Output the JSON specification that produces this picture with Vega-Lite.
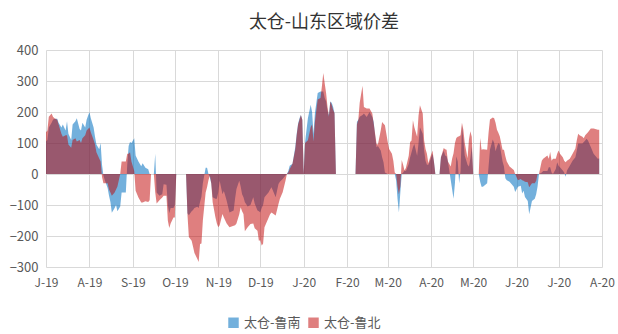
{
  "$schema": "https://vega.github.io/schema/vega-lite/v6.json",
  "width": 556,
  "height": 217,
  "autosize": {"type": "none"},
  "padding": {"left": 46, "top": 50, "right": 16, "bottom": 67},
  "background": "white",
  "title": {
    "text": "太仓-山东区域价差",
    "font": "Noto Sans CJK SC",
    "fontSize": 18,
    "fontWeight": "normal",
    "color": "#333333",
    "anchor": "middle",
    "offset": 12
  },
  "config": {
    "view": {"stroke": null},
    "axis": {
      "labelFont": "Noto Sans CJK SC",
      "labelFontSize": 12,
      "labelColor": "#595959",
      "gridColor": "#D9D9D9",
      "gridWidth": 1,
      "domain": false,
      "ticks": false,
      "title": null
    },
    "legend": {
      "labelFont": "Noto Sans CJK SC",
      "labelFontSize": 13,
      "labelColor": "#595959"
    }
  },
  "data": {
    "values": [
      {"d":"2019-07-01","s":105,"n":135},{"d":"2019-07-02","s":110,"n":140},{"d":"2019-07-03","s":150,"n":185},{"d":"2019-07-05","s":165,"n":195},{"d":"2019-07-06","s":175,"n":185},{"d":"2019-07-07","s":178,"n":180},{"d":"2019-07-09","s":178,"n":175},{"d":"2019-07-10","s":165,"n":160},{"d":"2019-07-12","s":150,"n":130},{"d":"2019-07-13","s":160,"n":120},{"d":"2019-07-15","s":140,"n":125},{"d":"2019-07-16","s":170,"n":125},{"d":"2019-07-17","s":130,"n":95},{"d":"2019-07-19","s":110,"n":85},{"d":"2019-07-20","s":160,"n":110},{"d":"2019-07-22","s":170,"n":115},{"d":"2019-07-23","s":180,"n":105},{"d":"2019-07-25","s":145,"n":110},{"d":"2019-07-26","s":140,"n":100},{"d":"2019-07-27","s":165,"n":115},{"d":"2019-07-29","s":150,"n":125},{"d":"2019-07-30","s":175,"n":140},
      {"d":"2019-08-01","s":200,"n":150},{"d":"2019-08-02","s":180,"n":135},{"d":"2019-08-04","s":150,"n":110},{"d":"2019-08-05","s":120,"n":95},{"d":"2019-08-06","s":95,"n":70},{"d":"2019-08-08","s":80,"n":50},{"d":"2019-08-09","s":100,"n":40},{"d":"2019-08-10","s":30,"n":-10},{"d":"2019-08-11","s":-5,"n":-30},{"d":"2019-08-12","s":-20,"n":-30},{"d":"2019-08-14","s":-45,"n":-30},{"d":"2019-08-15","s":-70,"n":-50},{"d":"2019-08-16","s":-90,"n":-60},{"d":"2019-08-17","s":-125,"n":-70},{"d":"2019-08-19","s":-110,"n":-60},{"d":"2019-08-20","s":-100,"n":-50},{"d":"2019-08-21","s":-120,"n":-40},{"d":"2019-08-23","s":-105,"n":0},{"d":"2019-08-24","s":-60,"n":40},{"d":"2019-08-26","s":-60,"n":40},{"d":"2019-08-27","s":-60,"n":40},{"d":"2019-08-28","s":30,"n":65},{"d":"2019-08-29","s":90,"n":65},{"d":"2019-08-30","s":103,"n":70},{"d":"2019-08-31","s":100,"n":40},
      {"d":"2019-09-02","s":115,"n":10},{"d":"2019-09-03","s":60,"n":-54},{"d":"2019-09-05","s":40,"n":-76},{"d":"2019-09-07","s":25,"n":-92},{"d":"2019-09-08","s":35,"n":-92},{"d":"2019-09-10","s":20,"n":-88},{"d":"2019-09-12","s":15,"n":-90},{"d":"2019-09-13","s":0,"n":-85},{"d":"2019-09-14","s":0,"n":0},{"d":"2019-09-16","s":0,"n":0},{"d":"2019-09-17","s":65,"n":-60},{"d":"2019-09-18","s":-60,"n":-95},{"d":"2019-09-20","s":-70,"n":-85},{"d":"2019-09-22","s":-65,"n":-76},{"d":"2019-09-23","s":-33,"n":-70},{"d":"2019-09-25","s":-35,"n":-70},{"d":"2019-09-26","s":-100,"n":-150},{"d":"2019-09-27","s":-127,"n":-174},{"d":"2019-09-28","s":-110,"n":-160},{"d":"2019-09-30","s":-110,"n":-140},
      {"d":"2019-10-01","s":-100,"n":-140},{"d":"2019-10-02","s":0,"n":0},{"d":"2019-10-09","s":0,"n":0},{"d":"2019-10-10","s":-127,"n":-130},{"d":"2019-10-11","s":-133,"n":-203},{"d":"2019-10-13","s":-120,"n":-215},{"d":"2019-10-14","s":-116,"n":-235},{"d":"2019-10-15","s":-110,"n":-255},{"d":"2019-10-17","s":-106,"n":-273},{"d":"2019-10-18","s":-110,"n":-284},{"d":"2019-10-19","s":-90,"n":-226},{"d":"2019-10-20","s":-73,"n":-224},{"d":"2019-10-21","s":-30,"n":-150},{"d":"2019-10-23","s":20,"n":-60},{"d":"2019-10-24","s":20,"n":-43},{"d":"2019-10-25","s":0,"n":-20},{"d":"2019-10-26","s":-11,"n":-5},{"d":"2019-10-27","s":-30,"n":-30},{"d":"2019-10-28","s":-75,"n":-91},{"d":"2019-10-30","s":-80,"n":-140},{"d":"2019-10-31","s":-80,"n":-160},
      {"d":"2019-11-01","s":-60,"n":-172},{"d":"2019-11-02","s":-22,"n":-165},{"d":"2019-11-04","s":-65,"n":-129},{"d":"2019-11-05","s":-55,"n":-140},{"d":"2019-11-06","s":-70,"n":-150},{"d":"2019-11-07","s":-86,"n":-160},{"d":"2019-11-09","s":-124,"n":-172},{"d":"2019-11-12","s":-118,"n":-167},{"d":"2019-11-13","s":-80,"n":-165},{"d":"2019-11-14","s":-48,"n":-160},{"d":"2019-11-16","s":-22,"n":-130},{"d":"2019-11-17","s":-40,"n":-107},{"d":"2019-11-18","s":-65,"n":-120},{"d":"2019-11-19","s":-75,"n":-129},{"d":"2019-11-20","s":-91,"n":-185},{"d":"2019-11-22","s":-105,"n":-172},{"d":"2019-11-24","s":-100,"n":-161},{"d":"2019-11-26","s":-75,"n":-160},{"d":"2019-11-27","s":-95,"n":-175},{"d":"2019-11-29","s":-118,"n":-183},{"d":"2019-11-30","s":-120,"n":-215},
      {"d":"2019-12-01","s":-124,"n":-214},{"d":"2019-12-02","s":-110,"n":-231},{"d":"2019-12-03","s":-100,"n":-225},{"d":"2019-12-04","s":-75,"n":-172},{"d":"2019-12-07","s":-59,"n":-140},{"d":"2019-12-08","s":-50,"n":-130},{"d":"2019-12-09","s":-43,"n":-124},{"d":"2019-12-12","s":-75,"n":-134},{"d":"2019-12-14","s":-32,"n":-97},{"d":"2019-12-15","s":-25,"n":-80},{"d":"2019-12-17","s":-16,"n":-59},{"d":"2019-12-19","s":-5,"n":-22},{"d":"2019-12-20","s":0,"n":0},{"d":"2019-12-21","s":10,"n":5},{"d":"2019-12-22","s":27,"n":16},{"d":"2019-12-24","s":33,"n":33},{"d":"2019-12-26","s":87,"n":80},{"d":"2019-12-27","s":130,"n":125},{"d":"2019-12-28","s":163,"n":160},{"d":"2019-12-29","s":180,"n":175},{"d":"2019-12-30","s":190,"n":190},{"d":"2019-12-31","s":175,"n":175},
      {"d":"2020-01-01","s":0,"n":0},{"d":"2020-01-02","s":103,"n":100},{"d":"2020-01-04","s":180,"n":109},{"d":"2020-01-06","s":223,"n":152},{"d":"2020-01-07","s":200,"n":160},{"d":"2020-01-08","s":130,"n":105},{"d":"2020-01-09","s":196,"n":168},{"d":"2020-01-11","s":261,"n":240},{"d":"2020-01-13","s":266,"n":245},{"d":"2020-01-14","s":266,"n":283},{"d":"2020-01-15","s":266,"n":326},{"d":"2020-01-16","s":245,"n":293},{"d":"2020-01-17","s":235,"n":261},{"d":"2020-01-18","s":205,"n":217},{"d":"2020-01-19","s":190,"n":185},{"d":"2020-01-20","s":234,"n":234},{"d":"2020-01-21","s":230,"n":223},{"d":"2020-01-22","s":217,"n":207},{"d":"2020-01-23","s":196,"n":196},{"d":"2020-01-24","s":0,"n":0},
      {"d":"2020-02-07","s":0,"n":0},{"d":"2020-02-08","s":168,"n":160},{"d":"2020-02-09","s":175,"n":175},{"d":"2020-02-10","s":185,"n":230},{"d":"2020-02-12","s":190,"n":285},{"d":"2020-02-13","s":195,"n":216},{"d":"2020-02-15","s":184,"n":211},{"d":"2020-02-17","s":200,"n":211},{"d":"2020-02-19","s":184,"n":195},{"d":"2020-02-20","s":168,"n":162},{"d":"2020-02-21","s":124,"n":130},{"d":"2020-02-22","s":86,"n":97},{"d":"2020-02-23","s":90,"n":95},{"d":"2020-02-25","s":76,"n":140},{"d":"2020-02-26","s":54,"n":168},{"d":"2020-02-27","s":38,"n":162},{"d":"2020-02-28","s":5,"n":157},
      {"d":"2020-03-01","s":0,"n":103},{"d":"2020-03-02","s":0,"n":81},{"d":"2020-03-04","s":0,"n":65},{"d":"2020-03-05","s":0,"n":43},{"d":"2020-03-06","s":0,"n":5},{"d":"2020-03-07","s":-20,"n":0},{"d":"2020-03-08","s":-80,"n":-40},{"d":"2020-03-09","s":-124,"n":-65},{"d":"2020-03-10","s":-60,"n":-40},{"d":"2020-03-11","s":0,"n":45},{"d":"2020-03-12","s":5,"n":30},{"d":"2020-03-13","s":11,"n":11},{"d":"2020-03-14","s":10,"n":20},{"d":"2020-03-16","s":32,"n":59},{"d":"2020-03-17","s":54,"n":103},{"d":"2020-03-18","s":70,"n":108},{"d":"2020-03-19","s":86,"n":173},{"d":"2020-03-20","s":97,"n":151},{"d":"2020-03-22","s":59,"n":120},{"d":"2020-03-23","s":100,"n":189},{"d":"2020-03-24","s":151,"n":222},{"d":"2020-03-26","s":130,"n":195},{"d":"2020-03-27","s":76,"n":108},{"d":"2020-03-28","s":43,"n":81},{"d":"2020-03-29","s":30,"n":65},{"d":"2020-03-30","s":30,"n":35},{"d":"2020-03-31","s":40,"n":49},
      {"d":"2020-04-02","s":65,"n":76},{"d":"2020-04-03","s":40,"n":40},{"d":"2020-04-04","s":0,"n":0},{"d":"2020-04-07","s":0,"n":0},{"d":"2020-04-08","s":54,"n":54},{"d":"2020-04-10","s":75,"n":84},{"d":"2020-04-11","s":60,"n":80},{"d":"2020-04-12","s":57,"n":78},{"d":"2020-04-13","s":40,"n":40},{"d":"2020-04-15","s":-20,"n":24},{"d":"2020-04-16","s":-50,"n":50},{"d":"2020-04-17","s":-80,"n":67},{"d":"2020-04-18","s":-30,"n":100},{"d":"2020-04-19","s":57,"n":116},{"d":"2020-04-20","s":40,"n":120},{"d":"2020-04-21","s":-30,"n":122},{"d":"2020-04-22","s":10,"n":125},{"d":"2020-04-23","s":154,"n":165},{"d":"2020-04-24","s":111,"n":143},{"d":"2020-04-25","s":60,"n":100},{"d":"2020-04-27","s":30,"n":51},{"d":"2020-04-28","s":24,"n":111},{"d":"2020-04-29","s":50,"n":138},{"d":"2020-04-30","s":90,"n":120},
      {"d":"2020-05-01","s":0,"n":0},{"d":"2020-05-05","s":0,"n":0},{"d":"2020-05-06","s":-25,"n":116},{"d":"2020-05-07","s":-41,"n":78},{"d":"2020-05-08","s":-41,"n":80},{"d":"2020-05-11","s":-30,"n":78},{"d":"2020-05-12","s":24,"n":133},{"d":"2020-05-13","s":78,"n":176},{"d":"2020-05-15","s":111,"n":182},{"d":"2020-05-16","s":100,"n":180},{"d":"2020-05-17","s":73,"n":165},{"d":"2020-05-18","s":89,"n":143},{"d":"2020-05-19","s":100,"n":133},{"d":"2020-05-20","s":95,"n":122},{"d":"2020-05-22","s":40,"n":78},{"d":"2020-05-23","s":24,"n":78},{"d":"2020-05-24","s":-14,"n":57},{"d":"2020-05-25","s":-20,"n":40},{"d":"2020-05-27","s":-25,"n":24},{"d":"2020-05-30","s":-41,"n":13},{"d":"2020-05-31","s":-58,"n":0},
      {"d":"2020-06-02","s":-41,"n":-20},{"d":"2020-06-04","s":-38,"n":-16},{"d":"2020-06-05","s":-63,"n":-20},{"d":"2020-06-06","s":-54,"n":-22},{"d":"2020-06-07","s":-74,"n":-25},{"d":"2020-06-09","s":-87,"n":-27},{"d":"2020-06-10","s":-130,"n":-43},{"d":"2020-06-12","s":-87,"n":-30},{"d":"2020-06-14","s":-80,"n":-30},{"d":"2020-06-15","s":-65,"n":-22},{"d":"2020-06-16","s":-40,"n":0},{"d":"2020-06-17","s":0,"n":0},{"d":"2020-06-19","s":5,"n":43},{"d":"2020-06-20","s":10,"n":49},{"d":"2020-06-23","s":10,"n":60},{"d":"2020-06-24","s":22,"n":49},{"d":"2020-06-25","s":22,"n":71},{"d":"2020-06-26","s":5,"n":43},{"d":"2020-06-27","s":0,"n":49},{"d":"2020-06-29","s":16,"n":49},{"d":"2020-06-30","s":38,"n":65},
      {"d":"2020-07-01","s":27,"n":76},{"d":"2020-07-02","s":22,"n":65},{"d":"2020-07-04","s":11,"n":54},{"d":"2020-07-05","s":5,"n":43},{"d":"2020-07-06","s":-9,"n":38},{"d":"2020-07-07","s":11,"n":43},{"d":"2020-07-09","s":27,"n":49},{"d":"2020-07-11","s":43,"n":65},{"d":"2020-07-13","s":54,"n":82},{"d":"2020-07-14","s":76,"n":109},{"d":"2020-07-15","s":98,"n":130},{"d":"2020-07-16","s":98,"n":125},{"d":"2020-07-18","s":98,"n":120},{"d":"2020-07-19","s":103,"n":115},{"d":"2020-07-20","s":108,"n":125},{"d":"2020-07-21","s":114,"n":130},{"d":"2020-07-22","s":108,"n":135},{"d":"2020-07-24","s":87,"n":147},{"d":"2020-07-26","s":65,"n":147},{"d":"2020-07-29","s":49,"n":143},{"d":"2020-07-30","s":50,"n":143}
    ]
  },
  "transform": [
    {"fold": ["s", "n"], "as": ["k", "value"]},
    {"lookup": "k", "from": {"data": {"values": [{"k": "s", "series": "太仓-鲁南"}, {"k": "n", "series": "太仓-鲁北"}]}, "key": "k", "fields": ["series"]}}
  ],
  "encoding": {
    "x": {
      "field": "d",
      "type": "temporal",
      "scale": {
        "type": "utc",
        "domain": [{"year": 2019, "month": 7, "date": 1, "utc": true}, {"year": 2020, "month": 8, "date": 1, "utc": true}],
        "nice": false
      },
      "axis": {
        "values": [
          {"year": 2019, "month": 7, "date": 1, "utc": true},
          {"year": 2019, "month": 8, "date": 1, "utc": true},
          {"year": 2019, "month": 9, "date": 1, "utc": true},
          {"year": 2019, "month": 10, "date": 1, "utc": true},
          {"year": 2019, "month": 11, "date": 1, "utc": true},
          {"year": 2019, "month": 12, "date": 1, "utc": true},
          {"year": 2020, "month": 1, "date": 1, "utc": true},
          {"year": 2020, "month": 2, "date": 1, "utc": true},
          {"year": 2020, "month": 3, "date": 1, "utc": true},
          {"year": 2020, "month": 4, "date": 1, "utc": true},
          {"year": 2020, "month": 5, "date": 1, "utc": true},
          {"year": 2020, "month": 6, "date": 1, "utc": true},
          {"year": 2020, "month": 7, "date": 1, "utc": true},
          {"year": 2020, "month": 8, "date": 1, "utc": true}
        ],
        "labelExpr": "substring(utcFormat(datum.value, '%b'), 0, 1) + '-' + utcFormat(datum.value, '%y')",
        "labelFlush": false,
        "labelOverlap": false,
        "labelPadding": 10
      }
    },
    "y": {
      "field": "value",
      "type": "quantitative",
      "stack": null,
      "scale": {"domain": [-300, 400], "nice": false},
      "axis": {"values": [-300, -200, -100, 0, 100, 200, 300, 400], "labelPadding": 8, "labelFontSize": 13}
    },
    "color": {
      "field": "series",
      "type": "nominal",
      "scale": {"domain": ["太仓-鲁南", "太仓-鲁北"], "range": ["rgba(0,112,192,0.55)", "rgba(192,0,0,0.5)"]},
      "legend": {
        "title": null,
        "orient": "none",
        "direction": "horizontal",
        "legendX": 181,
        "legendY": 266,
        "symbolType": "square",
        "symbolSize": 110,
        "symbolStrokeWidth": 0,
        "columnPadding": 6,
        "labelOffset": 4
      }
    }
  },
  "layer": [
    {"transform": [{"filter": "datum.series === '太仓-鲁南'"}], "mark": {"type": "area", "interpolate": "linear"}},
    {"transform": [{"filter": "datum.series === '太仓-鲁北'"}], "mark": {"type": "area", "interpolate": "linear"}}
  ]
}
